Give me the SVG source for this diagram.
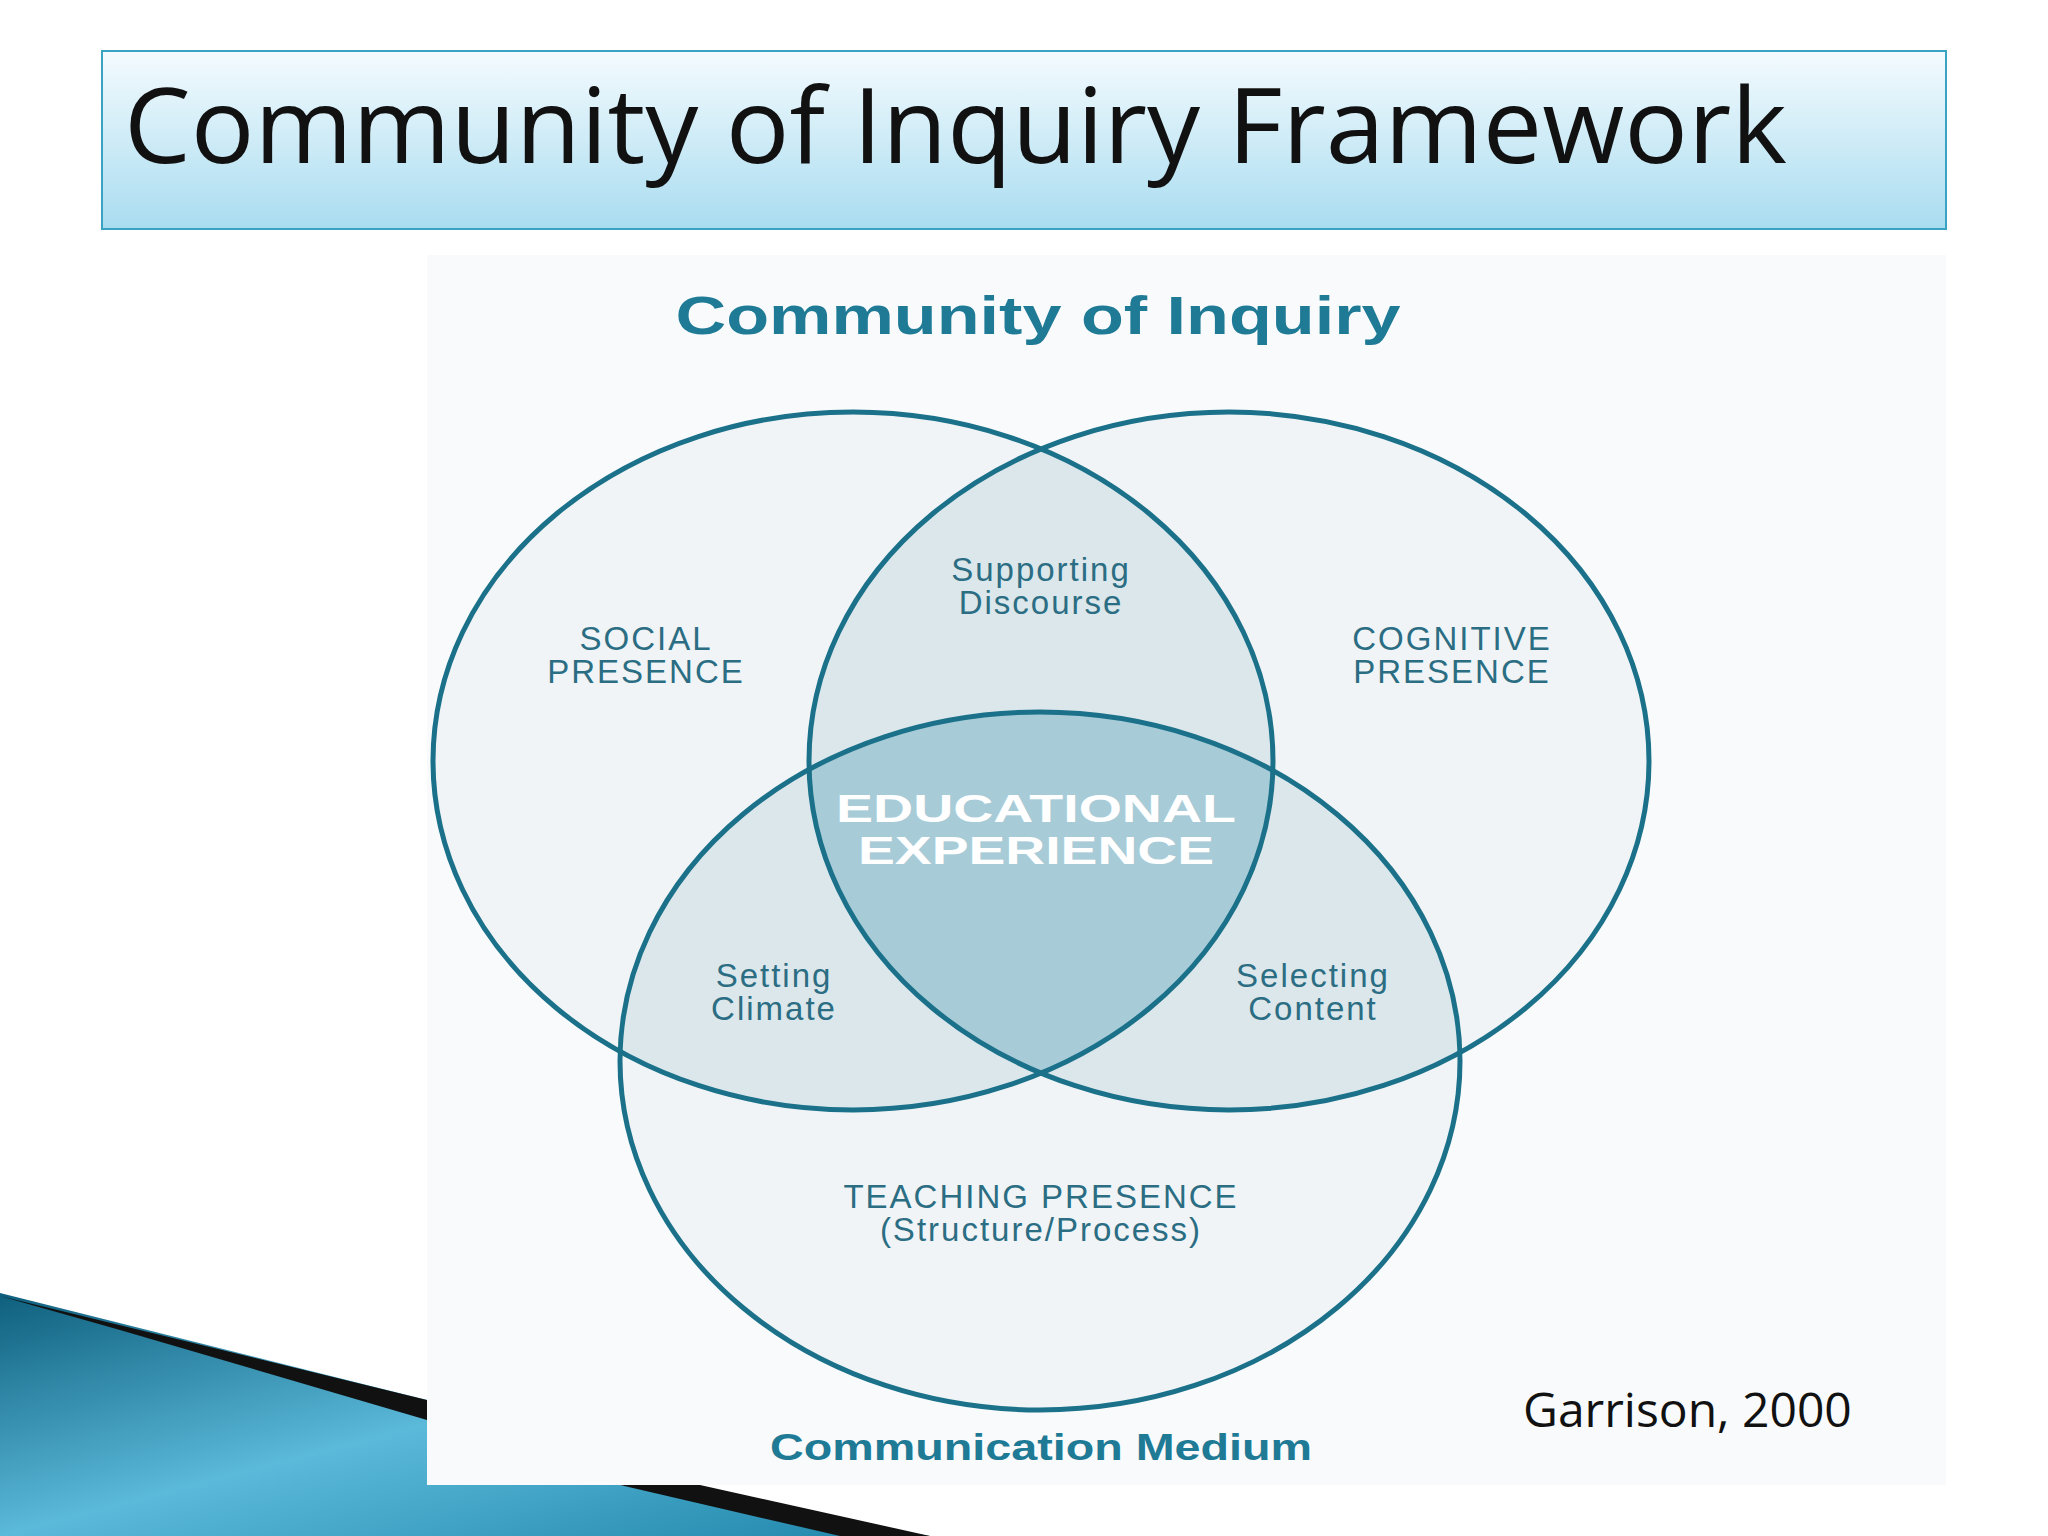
<svg xmlns="http://www.w3.org/2000/svg" width="2048" height="1536" viewBox="0 0 2048 1536">
<defs>
<linearGradient id="tg" x1="0" y1="0" x2="0" y2="1"><stop offset="0" stop-color="#f4fbfe"/><stop offset="1" stop-color="#a9dcf0"/></linearGradient>
<linearGradient id="bg" x1="0" y1="0" x2="1" y2="1"><stop offset="0" stop-color="#0e5f7d"/><stop offset="0.5" stop-color="#5bb9da"/><stop offset="1" stop-color="#1f86aa"/></linearGradient>
<clipPath id="cs"><ellipse cx="853" cy="761" rx="420" ry="349"/></clipPath>
<clipPath id="cc"><ellipse cx="1229" cy="761" rx="420" ry="349"/></clipPath>
<clipPath id="ct"><ellipse cx="1040" cy="1061" rx="420" ry="349"/></clipPath>
<style>
.e{stroke:#1a7189;stroke-width:5;fill:none}
.l{font-family:"Liberation Sans",Arial,sans-serif;font-size:33px;fill:#2b6d83;text-anchor:middle;letter-spacing:2px}
.b{font-family:"Liberation Sans",Arial,sans-serif;font-weight:bold;fill:#1f7a96;text-anchor:middle}
</style>
</defs>
<rect width="2048" height="1536" fill="#fff"/>
<g id="decor">
<polygon points="0,1293 427,1400 427,1485 620,1485 930,1536 0,1536" fill="url(#bg)"/>
<polygon points="0,1296 427,1400 427,1420 120,1330" fill="#111"/>
<polygon points="620,1485 700,1485 930,1536 840,1536" fill="#111"/>
</g>
<g id="title">
<rect x="102" y="51" width="1844" height="178" fill="url(#tg)" stroke="#3aa3c4" stroke-width="2"/>
<text x="124" y="163" font-family="'Open Sans','Liberation Sans',sans-serif" font-size="104" fill="#111" textLength="1663" lengthAdjust="spacingAndGlyphs">Community of Inquiry Framework</text>
</g>
<rect x="427" y="255" width="1519" height="1230" fill="#f8fafb"/>
<text class="b" x="1038" y="334" font-size="54" textLength="725" lengthAdjust="spacingAndGlyphs">Community of Inquiry</text>
<g id="fills">
<ellipse cx="853" cy="761" rx="420" ry="349" fill="#f0f4f6"/>
<ellipse cx="1229" cy="761" rx="420" ry="349" fill="#f0f4f6"/>
<ellipse cx="1040" cy="1061" rx="420" ry="349" fill="#f0f4f6"/>
<g clip-path="url(#cs)"><ellipse cx="1229" cy="761" rx="420" ry="349" fill="#dbe7eb"/><ellipse cx="1040" cy="1061" rx="420" ry="349" fill="#dbe7eb"/></g>
<g clip-path="url(#cc)"><ellipse cx="1040" cy="1061" rx="420" ry="349" fill="#dbe7eb"/></g>
<g clip-path="url(#cs)"><g clip-path="url(#cc)"><ellipse cx="1040" cy="1061" rx="420" ry="349" fill="#a8cbd8"/></g></g>
</g>
<g id="social"><ellipse class="e" cx="853" cy="761" rx="420" ry="349"/><text class="l" x="646" y="650">SOCIAL</text><text class="l" x="646" y="683">PRESENCE</text></g>
<g id="cognitive"><ellipse class="e" cx="1229" cy="761" rx="420" ry="349"/><text class="l" x="1452" y="650">COGNITIVE</text><text class="l" x="1452" y="683">PRESENCE</text></g>
<g id="teaching"><ellipse class="e" cx="1040" cy="1061" rx="420" ry="349"/><text class="l" x="1041" y="1208">TEACHING PRESENCE</text><text class="l" x="1041" y="1241">(Structure/Process)</text></g>
<g id="labels">
<text class="l" x="1041" y="581">Supporting</text><text class="l" x="1041" y="614">Discourse</text>
<text class="l" x="774" y="987">Setting</text><text class="l" x="774" y="1020">Climate</text>
<text class="l" x="1313" y="987">Selecting</text><text class="l" x="1313" y="1020">Content</text>
<text class="b" x="1036" y="822" font-size="38" style="fill:#fff" textLength="400" lengthAdjust="spacingAndGlyphs">EDUCATIONAL</text>
<text class="b" x="1036" y="864" font-size="38" style="fill:#fff" textLength="356" lengthAdjust="spacingAndGlyphs">EXPERIENCE</text>
<text class="b" x="1041" y="1460" font-size="36" textLength="542" lengthAdjust="spacingAndGlyphs">Communication Medium</text>
</g>
<text x="1523" y="1427" font-family="'Open Sans','Liberation Sans',sans-serif" font-size="48" fill="#111">Garrison, 2000</text>
</svg>
